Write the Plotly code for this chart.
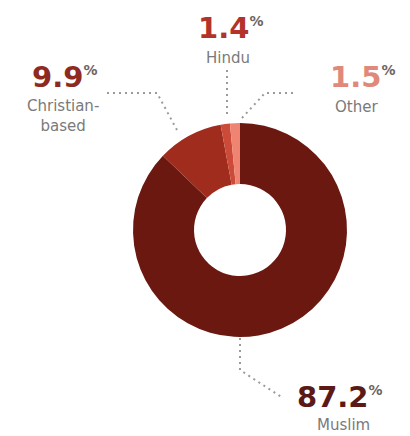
import plotly.graph_objects as go

labels = ["Muslim", "Christian-based", "Hindu", "Other"]
label_lines = ["Muslim", "Christian-<br>based", "Hindu", "Other"]
values = [87.2, 9.9, 1.4, 1.5]
slice_colors = ["#6a1810", "#a02c1e", "#cc4a38", "#f08472"]
number_colors = ["#5c1a16", "#8e2a22", "#b3322a", "#e0887a"]

W, H = 410, 436
cx, cy, R = 240, 230, 107

fig = go.Figure()
fig.add_trace(go.Pie(
    labels=labels, values=values, hole=0.43, sort=False,
    direction="clockwise", rotation=0,
    marker=dict(colors=slice_colors, line=dict(width=0)),
    textinfo="none", hoverinfo="label+percent", showlegend=False,
    domain=dict(x=[(cx - R) / W, (cx + R) / W],
                y=[(H - cy - R) / H, (H - cy + R) / H]),
))

# label placement (pixel coords): number left/centre, name centre
pos = {
    "Muslim": ((295, 397), (343, 425)),
    "Christian-based": ((30, 77), (63, 116)),
    "Hindu": ((196, 28), (228, 58)),
    "Other": ((328, 77), (356, 107)),
}
for lab, ll, v, c in zip(labels, label_lines, values, number_colors):
    (nx, ny), (tx, ty) = pos[lab]
    fig.add_annotation(
        x=nx, y=ny, xref="x", yref="y", xanchor="left", yanchor="middle",
        text=f"<b>{v}</b><sup><span style='font-size:14px;color:#6e6462'><b>%</b></span></sup>",
        showarrow=False, font=dict(family="DejaVu Sans", size=29, color=c))
    fig.add_annotation(
        x=tx, y=ty, xref="x", yref="y", xanchor="center", yanchor="middle",
        text=ll, showarrow=False,
        font=dict(family="DejaVu Sans", size=15, color="#7a7a7a"))

leaders = [
    "M 107 93 L 157 93 L 177 130",
    "M 227 70 L 227 118",
    "M 293 93 L 265 93 L 242 118",
    "M 240 338 L 240 370 L 283 398",
]
for p in leaders:
    fig.add_shape(type="path", path=p, xref="x", yref="y",
                  line=dict(color="#9a9a9a", width=2, dash="2px,4px"))

fig.update_layout(
    width=W, height=H, margin=dict(l=0, r=0, t=0, b=0),
    paper_bgcolor="white", plot_bgcolor="white",
    xaxis=dict(range=[0, W], visible=False, fixedrange=True),
    yaxis=dict(range=[H, 0], visible=False, fixedrange=True),
)
fig.write_html("out.html")
